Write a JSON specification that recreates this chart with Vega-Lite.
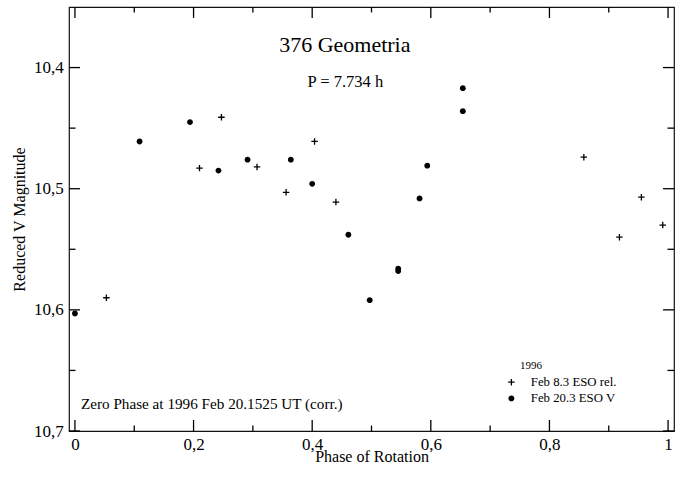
{
  "$schema": "https://vega.github.io/schema/vega-lite/v6.json",
  "width": 605,
  "height": 424,
  "autosize": {"type": "none"},
  "padding": {"left": 69, "top": 7, "right": 6, "bottom": 46},
  "background": "white",
  "data": {
    "values": [
      {"phase": 0.053, "mag": 10.590, "session": "Feb 8.3 ESO rel."},
      {"phase": 0.210, "mag": 10.483, "session": "Feb 8.3 ESO rel."},
      {"phase": 0.247, "mag": 10.441, "session": "Feb 8.3 ESO rel."},
      {"phase": 0.307, "mag": 10.482, "session": "Feb 8.3 ESO rel."},
      {"phase": 0.356, "mag": 10.503, "session": "Feb 8.3 ESO rel."},
      {"phase": 0.404, "mag": 10.461, "session": "Feb 8.3 ESO rel."},
      {"phase": 0.440, "mag": 10.511, "session": "Feb 8.3 ESO rel."},
      {"phase": 0.858, "mag": 10.474, "session": "Feb 8.3 ESO rel."},
      {"phase": 0.918, "mag": 10.540, "session": "Feb 8.3 ESO rel."},
      {"phase": 0.955, "mag": 10.507, "session": "Feb 8.3 ESO rel."},
      {"phase": 0.991, "mag": 10.530, "session": "Feb 8.3 ESO rel."},
      {"phase": 0.000, "mag": 10.603, "session": "Feb 20.3 ESO V"},
      {"phase": 0.109, "mag": 10.461, "session": "Feb 20.3 ESO V"},
      {"phase": 0.194, "mag": 10.445, "session": "Feb 20.3 ESO V"},
      {"phase": 0.242, "mag": 10.485, "session": "Feb 20.3 ESO V"},
      {"phase": 0.291, "mag": 10.476, "session": "Feb 20.3 ESO V"},
      {"phase": 0.364, "mag": 10.476, "session": "Feb 20.3 ESO V"},
      {"phase": 0.400, "mag": 10.496, "session": "Feb 20.3 ESO V"},
      {"phase": 0.461, "mag": 10.538, "session": "Feb 20.3 ESO V"},
      {"phase": 0.497, "mag": 10.592, "session": "Feb 20.3 ESO V"},
      {"phase": 0.545, "mag": 10.566, "session": "Feb 20.3 ESO V"},
      {"phase": 0.545, "mag": 10.568, "session": "Feb 20.3 ESO V"},
      {"phase": 0.581, "mag": 10.508, "session": "Feb 20.3 ESO V"},
      {"phase": 0.594, "mag": 10.481, "session": "Feb 20.3 ESO V"},
      {"phase": 0.654, "mag": 10.417, "session": "Feb 20.3 ESO V"},
      {"phase": 0.654, "mag": 10.436, "session": "Feb 20.3 ESO V"}
    ]
  },
  "datasets": {
    "xmajor": [{"value": 0}, {"value": 0.2}, {"value": 0.4}, {"value": 0.6}, {"value": 0.8}, {"value": 1}],
    "xminor": [{"value": 0.1}, {"value": 0.3}, {"value": 0.5}, {"value": 0.7}, {"value": 0.9}],
    "ymajor": [{"value": 10.4}, {"value": 10.5}, {"value": 10.6}, {"value": 10.7}],
    "yminor": [{"value": 10.45}, {"value": 10.55}, {"value": 10.65}]
  },
  "config": {
    "font": "Liberation Serif",
    "view": {"stroke": "#111", "strokeWidth": 1.2},
    "axis": {
      "grid": false,
      "domain": false,
      "labelFont": "Liberation Serif",
      "labelFontSize": 17,
      "labelColor": "black",
      "labelFlush": false,
      "titleFont": "Liberation Serif",
      "titleFontSize": 16,
      "titleFontWeight": "normal",
      "titleColor": "black"
    },
    "legend": {
      "orient": "none",
      "legendX": 451,
      "legendY": 352.8,
      "titleFont": "Liberation Serif", "titleFontSize": 11, "titleFontWeight": "normal", "titleColor": "black", "titlePadding": 5,
      "labelFont": "Liberation Serif", "labelFontSize": 12.8, "labelColor": "black", "labelOffset": 13,
      "rowPadding": 2.2, "padding": 0,
      "symbolSize": 42, "symbolOffset": -15, "symbolFillColor": "black", "symbolStrokeWidth": 0, "symbolOpacity": 1
    }
  },
  "resolve": {"axis": {"x": "independent", "y": "independent"}},
  "layer": [
    {
      "transform": [{"filter": "datum.session === 'Feb 8.3 ESO rel.'"}],
      "mark": {"type": "point", "filled": true, "color": "black", "strokeWidth": 0, "size": 42, "opacity": 1},
      "encoding": {
        "x": {
          "field": "phase", "type": "quantitative",
          "scale": {"domain": [-0.01, 1.01], "nice": false, "zero": false},
          "axis": {
            "orient": "bottom", "values": [0, 0.2, 0.4, 0.6, 0.8, 1],
            "ticks": false, "labelPadding": 5,
            "labelExpr": "replace(format(datum.value, '~g'), '.', ',')",
            "title": "Phase of Rotation", "titleBaseline": "alphabetic", "titleY": 30.5
          }
        },
        "y": {
          "field": "mag", "type": "quantitative",
          "scale": {"domain": [10.35, 10.7], "reverse": true, "nice": false, "zero": false},
          "axis": {
            "orient": "left", "values": [10.4, 10.5, 10.6, 10.7],
            "ticks": false, "labelPadding": 5.7,
            "labelExpr": "replace(format(datum.value, '.1f'), '.', ',')",
            "title": "Reduced V Magnitude", "titleBaseline": "alphabetic", "titleAngle": -90, "titleX": -45
          }
        },
        "shape": {
          "field": "session", "type": "nominal",
          "scale": {
            "domain": ["Feb 8.3 ESO rel.", "Feb 20.3 ESO V"],
            "range": ["M-1,-0.2H-0.2V-1H0.2V-0.2H1V0.2H0.2V1H-0.2V0.2H-1Z", "M0.9,0A0.9,0.9 0 1,1 -0.9,0A0.9,0.9 0 1,1 0.9,0Z"]
          },
          "legend": {"title": "1996"}
        }
      }
    },
    {
      "transform": [{"filter": "datum.session === 'Feb 20.3 ESO V'"}],
      "mark": {"type": "point", "filled": true, "color": "black", "strokeWidth": 0, "size": 42, "opacity": 1},
      "encoding": {
        "x": {"field": "phase", "type": "quantitative", "axis": null},
        "y": {"field": "mag", "type": "quantitative", "axis": null},
        "shape": {"field": "session", "type": "nominal", "legend": {"title": "1996"}}
      }
    },
    {
      "data": {"name": "xmajor"},
      "mark": {"type": "rule", "color": "black", "strokeWidth": 1.3},
      "encoding": {
        "x": {"field": "value", "type": "quantitative", "axis": null},
        "y": {"datum": 10.7, "type": "quantitative", "axis": null},
        "y2": {"datum": 10.6909}
      }
    },
    {
      "data": {"name": "xminor"},
      "mark": {"type": "rule", "color": "black", "strokeWidth": 1.3},
      "encoding": {
        "x": {"field": "value", "type": "quantitative", "axis": null},
        "y": {"datum": 10.7, "type": "quantitative", "axis": null},
        "y2": {"datum": 10.6955}
      }
    },
    {
      "data": {"name": "xmajor"},
      "mark": {"type": "rule", "color": "black", "strokeWidth": 1.3},
      "encoding": {
        "x": {"field": "value", "type": "quantitative", "axis": null},
        "y": {"datum": 10.35, "type": "quantitative", "axis": null},
        "y2": {"datum": 10.3591}
      }
    },
    {
      "data": {"name": "xminor"},
      "mark": {"type": "rule", "color": "black", "strokeWidth": 1.3},
      "encoding": {
        "x": {"field": "value", "type": "quantitative", "axis": null},
        "y": {"datum": 10.35, "type": "quantitative", "axis": null},
        "y2": {"datum": 10.3545}
      }
    },
    {
      "data": {"name": "ymajor"},
      "mark": {"type": "rule", "color": "black", "strokeWidth": 1.3},
      "encoding": {
        "y": {"field": "value", "type": "quantitative", "axis": null},
        "x": {"datum": -0.01, "type": "quantitative", "axis": null},
        "x2": {"datum": 0.0085}
      }
    },
    {
      "data": {"name": "yminor"},
      "mark": {"type": "rule", "color": "black", "strokeWidth": 1.3},
      "encoding": {
        "y": {"field": "value", "type": "quantitative", "axis": null},
        "x": {"datum": -0.01, "type": "quantitative", "axis": null},
        "x2": {"datum": 0.001}
      }
    },
    {
      "data": {"name": "ymajor"},
      "mark": {"type": "rule", "color": "black", "strokeWidth": 1.3},
      "encoding": {
        "y": {"field": "value", "type": "quantitative", "axis": null},
        "x": {"datum": 1.01, "type": "quantitative", "axis": null},
        "x2": {"datum": 0.9915}
      }
    },
    {
      "data": {"name": "yminor"},
      "mark": {"type": "rule", "color": "black", "strokeWidth": 1.3},
      "encoding": {
        "y": {"field": "value", "type": "quantitative", "axis": null},
        "x": {"datum": 1.01, "type": "quantitative", "axis": null},
        "x2": {"datum": 0.999}
      }
    },
    {
      "data": {"values": [{"label": "376 Geometria"}]},
      "mark": {"type": "text", "font": "Liberation Serif", "fontSize": 22, "align": "center", "baseline": "alphabetic", "color": "black"},
      "encoding": {
        "text": {"field": "label", "type": "nominal"},
        "x": {"datum": 0.455, "type": "quantitative", "axis": null},
        "y": {"datum": 10.3872, "type": "quantitative", "axis": null}
      }
    },
    {
      "data": {"values": [{"label": "P = 7.734 h"}]},
      "mark": {"type": "text", "font": "Liberation Serif", "fontSize": 16.5, "align": "center", "baseline": "alphabetic", "color": "black"},
      "encoding": {
        "text": {"field": "label", "type": "nominal"},
        "x": {"datum": 0.456, "type": "quantitative", "axis": null},
        "y": {"datum": 10.4163, "type": "quantitative", "axis": null}
      }
    },
    {
      "data": {"values": [{"label": "Zero Phase at 1996 Feb 20.1525 UT (corr.)"}]},
      "mark": {"type": "text", "font": "Liberation Serif", "fontSize": 15.2, "align": "left", "baseline": "alphabetic", "color": "black"},
      "encoding": {
        "text": {"field": "label", "type": "nominal"},
        "x": {"datum": 0.0101, "type": "quantitative", "axis": null},
        "y": {"datum": 10.682, "type": "quantitative", "axis": null}
      }
    }
  ]
}
